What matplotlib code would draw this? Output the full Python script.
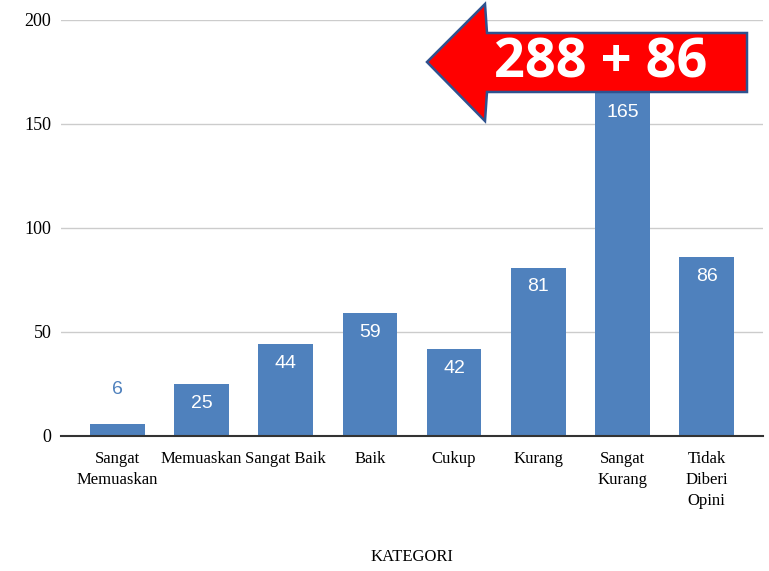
import matplotlib.pyplot as plt
from matplotlib.patches import Polygon

categories = ['Sangat\nMemuaskan', 'Memuaskan', 'Sangat Baik', 'Baik',
              'Cukup', 'Kurang', 'Sangat\nKurang', 'Tidak\nDiberi\nOpini']
values = [6, 25, 44, 59, 42, 81, 165, 86]
yticks = [0, 50, 100, 150, 200]
callout = '288 + 86'

bar_color = '#4f81bd'
serif = ['Liberation Serif', 'DejaVu Serif']
narrow = ['Liberation Sans Narrow', 'Liberation Sans', 'DejaVu Sans']

fig = plt.figure(figsize=(7.69, 5.71), dpi=100)
W, H = 769, 571
ax = fig.add_axes([61 / W, 1 - 436 / H, (763 - 61) / W, (436 - 20) / H])

x = range(len(categories))
ax.bar(x, values, width=0.65, color=bar_color, zorder=2)

# value labels: inside the bar, or above it when the bar is too short
for i, v in enumerate(values):
    if v < 15:
        ax.annotate(str(v), (i, v), xytext=(0, 24.5), textcoords='offset points',
                    ha='center', va='center', color=bar_color,
                    fontsize=14, family=narrow)
    else:
        ax.annotate(str(v), (i, v), xytext=(0, -14), textcoords='offset points',
                    ha='center', va='center', color='white',
                    fontsize=14, family=narrow)

ax.set_xlim(-0.67, 7.67)
ax.set_ylim(0, 200)
ax.set_yticks(yticks)
ax.set_yticklabels([str(t) for t in yticks], family=serif, fontsize=13)
ax.set_xticks(list(x))
ax.set_xticklabels(categories, family=serif, fontsize=12, linespacing=1.4)
ax.tick_params(axis='both', length=0, pad=7)
ax.tick_params(axis='x', pad=11)
ax.yaxis.grid(True, color='#cccccc', linewidth=1, zorder=0)
for s in ['top', 'right', 'left']:
    ax.spines[s].set_visible(False)
ax.spines['bottom'].set_color('#333333')
ax.spines['bottom'].set_linewidth(1.5)
ax.spines['bottom'].set_zorder(3)

fig.text(412 / W, 1 - 557 / H, 'KATEGORI', ha='center', va='center',
         family=serif, fontsize=12)

# red callout arrow (figure pixel coords)
pts = [(427, 62), (485, 4), (487, 33), (747, 33), (747, 92), (487, 92), (485, 121)]
pts = [(px / W, 1 - py / H) for px, py in pts]
arrow = Polygon(pts, closed=True, facecolor='#ff0000', edgecolor='#2f528f',
                linewidth=1.8, transform=fig.transFigure, zorder=5)
fig.patches.append(arrow)
fig.text(601 / W, 1 - 64 / H, callout, ha='center', va='center', color='white',
         fontsize=39, fontweight='bold', family=['Open Sans', 'DejaVu Sans'], zorder=6)

fig.savefig('out.png', dpi=100)
